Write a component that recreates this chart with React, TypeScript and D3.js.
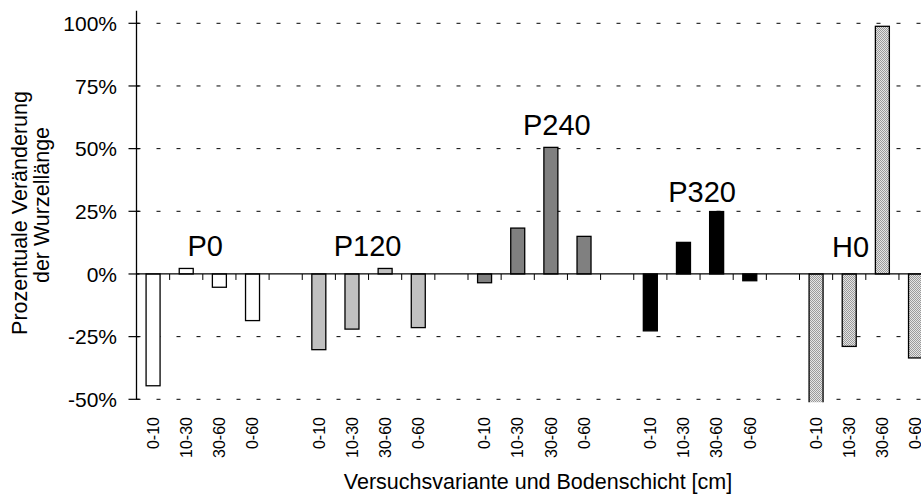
import React from "react";
import * as d3 from "d3";

// ---- data ----
const groups = ["P0", "P120", "P240", "P320", "H0"];
const layers = ["0-10", "10-30", "30-60", "0-60"];
const valuesP0 = [-44.6, 2.2, -5.3, -18.6];
const valuesP120 = [-30.2, -22.0, 2.2, -21.4];
const valuesP240 = [-3.5, 18.3, 50.5, 15.0];
const valuesP320 = [-22.7, 12.6, 24.9, -2.7];
const valuesH0 = [-53.0, -28.9, 98.8, -33.5];
const yTicks = [-50, -25, 0, 25, 50, 75, 100];
const groupFills = ["#ffffff", "#c0c0c0", "#808080", "#000000", "url(#hatch)"];
// label anchor: position along x in category steps, baseline in %
const labelStep = [2.07, 6.97, 12.68, 17.06, 21.54];
const labelVal = [7.3, 7.3, 55.6, 28.6, 6.9];

const allValues = [valuesP0, valuesP120, valuesP240, valuesP320, valuesH0];

const W = 921;
const H = 497;
const FONT = "'Liberation Sans', Arial, Helvetica, sans-serif";

export default function App() {
  const x0 = 136.5;
  const step = 33.15;

  // domain with gap categories between groups
  const domain: string[] = [];
  groups.forEach((g, gi) => {
    layers.forEach((l) => domain.push(`${g}|${l}`));
    if (gi < groups.length - 1) domain.push(`gap${gi}`);
  });
  const x = d3
    .scaleBand<string>()
    .domain(domain)
    .range([x0, x0 + step * domain.length])
    .paddingInner(0.578)
    .paddingOuter(0.289);

  const y = d3.scaleLinear().domain([-50, 100]).range([399.3, 23.3]);

  const bars: { key: string; v: number; fill: string; label: string }[] = [];
  groups.forEach((g, gi) => {
    layers.forEach((l, li) => {
      bars.push({ key: `${g}|${l}`, v: allValues[gi][li], fill: groupFills[gi], label: l });
    });
  });

  const stepPx = x.step();
  const xRight = W + 20;

  return (
    <svg
      width={W}
      height={H}
      style={{ position: "absolute", left: 0, top: 0, background: "#fff" }}
      fontFamily={FONT}
    >
      <defs>
        <pattern id="hatch" patternUnits="userSpaceOnUse" width={2} height={2}>
          <rect width={2} height={2} fill="#e4e4e4" />
          <path d="M-0.5,-0.5 L2.5,2.5 M-0.5,1.5 L0.5,2.5 M1.5,-0.5 L2.5,0.5" stroke="#7a7a7a" strokeWidth={0.7} />
        </pattern>
        <clipPath id="plotClip">
          <rect x={x0} y={0} width={W} height={y(-50) + 3} />
        </clipPath>
      </defs>

      {/* gridlines */}
      {yTicks
        .filter((t) => t !== 0)
        .map((t) => (
          <line
            key={`g${t}`}
            x1={x0}
            x2={xRight}
            y1={y(t)}
            y2={y(t)}
            stroke="#000"
            strokeWidth={1}
            strokeDasharray="4 16"
            strokeDashoffset={0}
          />
        ))}

      {/* bars */}
      <g clipPath="url(#plotClip)">
        {bars.map((b) => {
          const bx = x(b.key)!;
          const top = y(Math.max(0, b.v));
          const bottom = y(Math.min(0, b.v));
          return (
            <rect
              key={b.key}
              x={bx}
              y={top}
              width={x.bandwidth()}
              height={bottom - top}
              fill={b.fill}
              stroke="#000"
              strokeWidth={1.3}
            />
          );
        })}
      </g>

      {/* zero line and category ticks */}
      <line x1={x0} x2={xRight} y1={y(0)} y2={y(0)} stroke="#000" strokeWidth={1.2} />
      {d3.range(1, domain.length + 1).map((k) => (
        <line
          key={`xt${k}`}
          x1={x0 + k * stepPx}
          x2={x0 + k * stepPx}
          y1={y(0)}
          y2={y(0) + 6}
          stroke="#000"
          strokeWidth={1}
        />
      ))}

      {/* y axis */}
      <line x1={x0} x2={x0} y1={y(105)} y2={y(-50)} stroke="#000" strokeWidth={1.3} />
      {yTicks.map((t) => (
        <g key={`yt${t}`}>
          <line x1={x0 - 8} x2={x0 + 3} y1={y(t)} y2={y(t)} stroke="#000" strokeWidth={1.2} />
          <text
            x={117}
            y={y(t)}
            dy="0.36em"
            textAnchor="end"
            fontSize={21}
            fill="#000"
          >
            {`${t}%`}
          </text>
        </g>
      ))}

      {/* x tick labels */}
      {bars.map((b) => {
        const cx = x(b.key)! + x.bandwidth() / 2;
        return (
          <text
            key={`xl${b.key}`}
            transform={`translate(${cx},417) rotate(-90)`}
            dy="0.36em"
            textAnchor="end"
            fontSize={16}
            fill="#000"
          >
            {b.label}
          </text>
        );
      })}

      {/* group labels */}
      {groups.map((g, gi) => (
        <text
          key={`lab${g}`}
          x={x0 + labelStep[gi] * stepPx}
          y={y(labelVal[gi])}
          textAnchor="middle"
          fontSize={29}
          fill="#000"
        >
          {g}
        </text>
      ))}

      {/* axis titles */}
      <text x={538} y={489} textAnchor="middle" fontSize={21.5} fill="#000">
        Versuchsvariante und Bodenschicht [cm]
      </text>
      <text
        transform={`translate(27,213) rotate(-90)`}
        textAnchor="middle"
        fontSize={21.5}
        fill="#000"
      >
        Prozentuale Veränderung
      </text>
      <text
        transform={`translate(49,205) rotate(-90)`}
        textAnchor="middle"
        fontSize={21.5}
        fill="#000"
      >
        der Wurzellänge
      </text>
    </svg>
  );
}
